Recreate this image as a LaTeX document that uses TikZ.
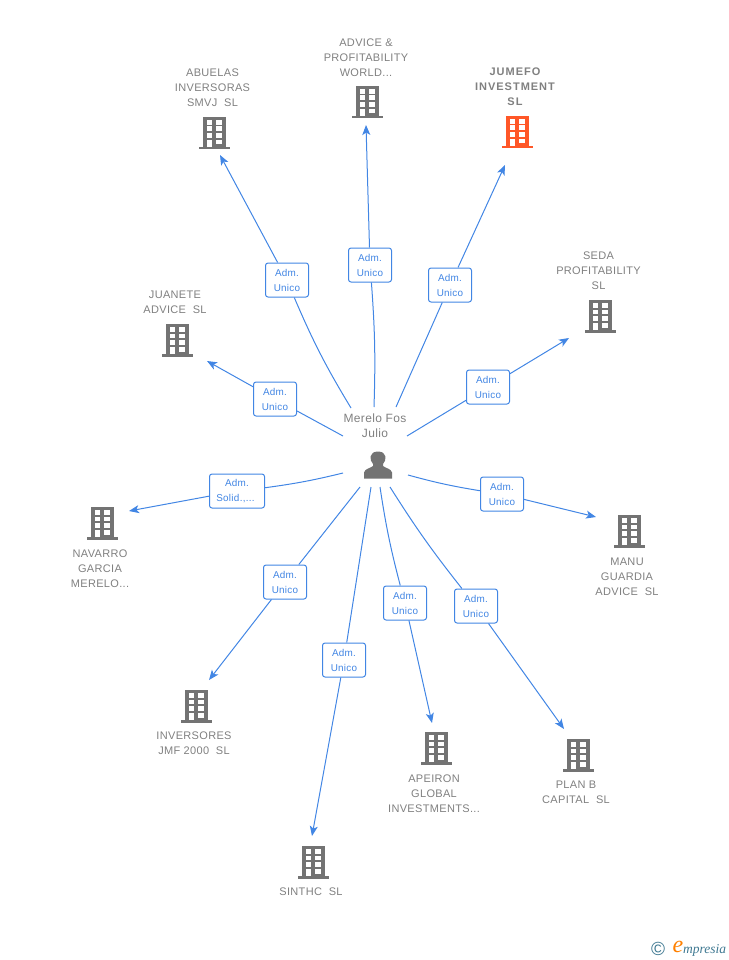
\documentclass[tikz,border=0pt]{standalone}
\usepackage{fontspec}
\setmainfont{Liberation Sans}
\newfontfamily\spacedfont[LetterSpace=3]{Liberation Sans}
\newfontfamily\wideboldfont[LetterSpace=9]{Liberation Sans}
\newfontfamily\logofont{Liberation Serif}
\usetikzlibrary{arrows.meta,positioning,calc}
\definecolor{lblue}{RGB}{66, 134, 228}
\definecolor{lgray}{RGB}{128, 128, 128}
\definecolor{dgray}{RGB}{115, 115, 115}
\definecolor{lorange}{RGB}{255, 87, 40}
\definecolor{lteal}{RGB}{62, 120, 145}
\tikzstyle{block} = [rectangle, draw=lblue, fill=white, line width=1pt, rounded corners=2.5pt,
  text=lblue, text width=43pt, align=center, minimum height=34pt, inner sep=0pt,
  font=\spacedfont\fontsize{9.9}{15}\selectfont]
\tikzstyle{cname} = [text=lgray, align=center, inner sep=0pt, font=\spacedfont\fontsize{11}{15}\selectfont]
\tikzstyle{line} = [draw, line width=1pt, color=lblue]
\tikzstyle{line2} = [draw, line width=1pt, color=lblue, -{Stealth[length=10pt,width=8pt,inset=2.5pt]}]
\tikzset{
  pics/office/.style={code={
    \fill[#1] (-11,-16) rectangle (12,14);
    \fill[#1] (-15.5,14) rectangle (16,16.5);
    \foreach \x in {-6.8,2.3} {
      \foreach \y in {-13,-6.5,0.2} {
        \fill[white] (\x,\y) rectangle +(5.2,4.6);
      }
    }
    \fill[white] (-6.8,7) rectangle (-1.6,14);
    \fill[white] (2.3,7) rectangle (7.5,11.5);
  }}
}
\newcommand{\conn}[6][]{
  \coordinate (#2-start) at (#3);
  \coordinate (#2-end) at (#5);
  \node [block, #1] (#2-adm) at (#4) {Adm.\hspace*{3pt}\\#6};
}
\begin{document}
\begin{tikzpicture}[x=1pt,y=-1pt]
  \useasboundingbox (0,0) rectangle (728,960);

  %%%%%%%%%%%%%%%%%%%%%%%%%%%%%%%%%%%%%%%%%%%%%%%%%%%%%%%%%%%%%%
  %                    PERSON                                  %
  %%%%%%%%%%%%%%%%%%%%%%%%%%%%%%%%%%%%%%%%%%%%%%%%%%%%%%%%%%%%%%

  \node [cname, font=\spacedfont\fontsize{12}{15}\selectfont] (merelo) at (375,426) {Merelo Fos\\Julio};
  \fill[dgray] (364,478.5) -- (364,472.5) .. controls (365,468.5) and (370,468.5) .. (373,466)
    -- (373,464) .. controls (369,460) and (369,451.5) .. (378,451.5)
    .. controls (387,451.5) and (387,460) .. (383,464) -- (383,466)
    .. controls (386,468.5) and (391,468.5) .. (392,472.5) -- (392,478.5) -- cycle;

  %%%%%%%%%%%%%%%%%%%%%%%%%%%%%%%%%%%%%%%%%%%%%%%%%%%%%%%%%%%%%%
  %                    COMPANIES                               %
  %%%%%%%%%%%%%%%%%%%%%%%%%%%%%%%%%%%%%%%%%%%%%%%%%%%%%%%%%%%%%%

  \pic at (214,133) {office=dgray};
  \node [cname] (abuelas) at (212.5,87.5) {ABUELAS\\INVERSORAS\\SMVJ\ \ SL};
  \pic at (367,102) {office=dgray};
  \node [cname] (advice) at (366,57.5) {ADVICE \&\\PROFITABILITY\\WORLD...};
  \pic at (517,132) {office=lorange};
  \node [cname, font=\wideboldfont\fontsize{11}{15}\selectfont\bfseries] (jumefo) at (515,87) {JUMEFO\\INVESTMENT\\SL};
  \pic at (600,316) {office=dgray};
  \node [cname] (seda) at (598.5,270.5) {SEDA\\PROFITABILITY\\SL};
  \pic at (177,340) {office=dgray};
  \node [cname] (juanete) at (175,302.5) {JUANETE\\ADVICE\ \ SL};
  \pic at (102,523) {office=dgray};
  \node [cname] (navarro) at (100,568.5) {NAVARRO\\GARCIA\\MERELO...};
  \pic at (629,531) {office=dgray};
  \node [cname] (manu) at (627,576.5) {MANU\\GUARDIA\\ADVICE\ \ SL};
  \pic at (196,706) {office=dgray};
  \node [cname] (inversores) at (194,743) {INVERSORES\\JMF 2000\ \ SL};
  \pic at (313,862) {office=dgray};
  \node [cname] (sinthc) at (311,892) {SINTHC\ \ SL};
  \pic at (436,748) {office=dgray};
  \node [cname] (apeiron) at (434,793.5) {APEIRON\\GLOBAL\\INVESTMENTS...};
  \pic at (578,755) {office=dgray};
  \node [cname] (planb) at (576,792) {PLAN B\\CAPITAL\ \ SL};

  %%%%%%%%%%%%%%%%%%%%%%%%%%%%%%%%%%%%%%%%%%%%%%%%%%%%%%%%%%%%%%
  %                    LINKS                                   %
  %%%%%%%%%%%%%%%%%%%%%%%%%%%%%%%%%%%%%%%%%%%%%%%%%%%%%%%%%%%%%%

  \conn{l1}{351,408}{287,280}{220,155}{Unico}
  \conn{l2}{374,407}{370,265}{366,125}{Unico}
  \conn{l3}{396,407}{450,285}{505,165}{Unico}
  \conn{l4}{407,436}{488,387}{569,338}{Unico}
  \conn{l5}{343,436}{275,399}{207,361}{Unico}
  \conn[text width=55pt]{l6}{343,473}{237,491}{129,511}{Solid.,...\hspace*{3pt}}
  \conn{l7}{408,475}{502,494}{596,517}{Unico}
  \conn{l8}{360,487}{285,582}{209,680}{Unico}
  \conn{l9}{371,487}{344,660}{312,836}{Unico}
  \conn{l10}{380,487}{405,603}{432,723}{Unico}
  \conn{l11}{390,487}{476,606}{564,729}{Unico}

  \draw[line] (l1-start) to[bend left=4] (l1-adm);
  \draw[line2] (l1-adm) -- (l1-end);
  \draw[line] (l2-start) to[bend right=3] (l2-adm);
  \draw[line2] (l2-adm) -- (l2-end);
  \draw[line] (l3-start) -- (l3-adm);
  \draw[line2] (l3-adm) -- (l3-end);
  \draw[line] (l4-start) -- (l4-adm);
  \draw[line2] (l4-adm) -- (l4-end);
  \draw[line] (l5-start) -- (l5-adm);
  \draw[line2] (l5-adm) -- (l5-end);
  \draw[line] (l6-start) to[bend left=3] (l6-adm);
  \draw[line2] (l6-adm) -- (l6-end);
  \draw[line] (l7-start) to[bend right=3] (l7-adm);
  \draw[line2] (l7-adm) -- (l7-end);
  \draw[line] (l8-start) -- (l8-adm);
  \draw[line2] (l8-adm) -- (l8-end);
  \draw[line] (l9-start) -- (l9-adm);
  \draw[line2] (l9-adm) -- (l9-end);
  \draw[line] (l10-start) to[bend right=3] (l10-adm);
  \draw[line2] (l10-adm) -- (l10-end);
  \draw[line] (l11-start) to[bend right=3] (l11-adm);
  \draw[line2] (l11-adm) -- (l11-end);

  %%%%%%%%%%%%%%%%%%%%%%%%%%%%%%%%%%%%%%%%%%%%%%%%%%%%%%%%%%%%%%
  %                    LOGO                                    %
  %%%%%%%%%%%%%%%%%%%%%%%%%%%%%%%%%%%%%%%%%%%%%%%%%%%%%%%%%%%%%%

  \node [inner sep=0pt, text=lteal, font=\fontsize{19}{19}\selectfont] (copyright) at (658,949) {©};
  \node [inner sep=0pt, text=orange, font=\logofont\fontsize{24}{24}\selectfont\itshape] (logo-e) at (678,947) {e};
  \node [inner sep=0pt, anchor=west, text=lteal, font=\logofont\fontsize{13.5}{15}\selectfont\itshape] (logo) at (683,950) {mpresia};
\end{tikzpicture}
\end{document}
